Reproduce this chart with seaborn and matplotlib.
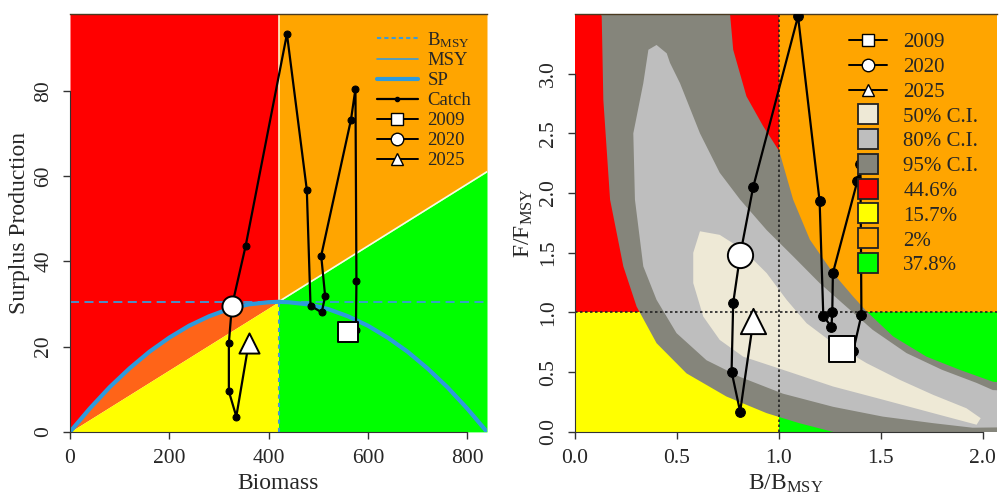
import numpy as np
import pandas as pd
import seaborn as sns
import matplotlib.pyplot as plt
from matplotlib.lines import Line2D

sns.set_style("ticks")
plt.rcParams['font.family'] = ['Liberation Serif', 'DejaVu Serif']
plt.rcParams['mathtext.fontset'] = 'custom'
plt.rcParams['mathtext.rm'] = 'Liberation Serif'
plt.rcParams['mathtext.it'] = 'Liberation Serif:italic'
plt.rcParams['font.size'] = 13

# ---- data ----
years = [2009, 2010, 2011, 2012, 2013, 2014, 2015, 2016, 2017, 2018, 2019,
         2019.5, 2020, 2021, 2022, 2023, 2025]
biomass = [561, 576, 577, 575, 566, 506, 514, 507, 484.5, 477, 437,
           354, 326, 320, 320, 335, 360]
catch = [23.5, 24.0, 35.3, 80.4, 73.2, 41.3, 31.8, 28.0, 29.6, 56.8, 93.3,
         43.7, 29.4, 20.8, 9.5, 3.6, 20.8]
b_bmsy = [1.31, 1.365, 1.405, 1.40, 1.385, 1.265, 1.262, 1.258, 1.218, 1.20, 1.094,
          0.874, 0.81, 0.776, 0.768, 0.81, 0.874]
f_fmsy = [0.69, 0.68, 0.98, 2.24, 2.10, 1.33, 1.00, 0.88, 0.97, 1.93, 3.48,
          2.05, 1.48, 1.08, 0.505, 0.17, 0.925]

highlight_years = ["2009", "2020", "2025"]
highlight_idx = [0, 12, 16]
highlight_marker = ["s", "o", "^"]

# surplus production curve
sp_biomass = [0, 40, 80, 120, 160, 200, 240, 280, 320, 360, 400, 420,
              440, 480, 520, 560, 600, 640, 680, 720, 760, 800, 840]
sp_values = [0, 5.5, 10.5, 14.9, 18.8, 22.1, 24.9, 27.1, 28.8, 29.9, 30.4, 30.5,
             30.4, 29.9, 28.8, 27.1, 24.9, 22.1, 18.8, 14.9, 10.5, 5.5, 0]
bmsy = 420
msy = 30.5
k_max = 840

# kobe confidence regions
ci95_x = [0.10, 0.131, 0.139, 0.172, 0.237, 0.302, 0.40, 0.547, 0.743, 0.94, 1.10, 1.266,
          1.266, 2.2, 2.2, 2.05, 1.887, 1.724, 1.56, 1.43, 1.364, 1.266, 1.152, 1.07,
          1.002, 0.923, 0.841, 0.776, 0.76, 0.755]
ci95_y = [3.6, 3.48, 2.78, 1.945, 1.386, 1.05, 0.743, 0.49, 0.296, 0.157, 0.073, 0.0,
          -0.1, -0.1, 0.40, 0.42, 0.52, 0.63, 0.80, 1.01, 1.134, 1.33, 1.61, 1.945,
          2.35, 2.56, 2.81, 3.2, 3.51, 3.6]
ci80_x = [0.36, 0.335, 0.286, 0.294, 0.335, 0.40, 0.498, 0.645, 0.81, 1.02, 1.266, 1.51,
          1.757, 1.95, 2.2, 2.2, 2.05, 1.97, 1.80, 1.626, 1.46, 1.33, 1.20, 1.07, 0.94,
          0.81, 0.71, 0.613, 0.515, 0.466, 0.45, 0.40]
ci80_y = [3.2, 2.92, 2.50, 1.945, 1.386, 1.106, 0.827, 0.60, 0.46, 0.32, 0.21, 0.128,
          0.073, 0.035, 0.04, 0.34, 0.35, 0.41, 0.52, 0.66, 0.855, 1.05, 1.246, 1.47, 1.69,
          1.945, 2.17, 2.50, 2.92, 3.09, 3.17, 3.24]
ci50_x = [0.613, 0.58, 0.58, 0.629, 0.71, 0.825, 1.02, 1.266, 1.51, 1.757, 1.97, 1.99,
          1.92, 1.757, 1.593, 1.43, 1.266, 1.136, 1.038, 0.94, 0.825, 0.71]
ci50_y = [1.68, 1.50, 1.246, 0.966, 0.77, 0.63, 0.52, 0.38, 0.27, 0.157, 0.06, 0.115,
          0.198, 0.31, 0.436, 0.576, 0.743, 0.91, 1.106, 1.33, 1.525, 1.65]

ci_labels = ["50% C.I.", "80% C.I.", "95% C.I."]
ci_colors = ["#EEE9D6", "#BEBEBE", "#85857B"]
quad_labels = ["44.6%", "15.7%", "2%", "37.8%"]
quad_colors = ["#FF0000", "#FFFF00", "#FFA500", "#00FF00"]

traj = pd.DataFrame({"year": years, "biomass": biomass, "catch": catch,
                     "b_bmsy": b_bmsy, "f_fmsy": f_fmsy})

fig = plt.figure(figsize=(10, 4.97), dpi=100)
ax1 = fig.add_axes([0.070, 0.131, 0.417, 0.841])
ax2 = fig.add_axes([0.575, 0.131, 0.422, 0.841])

# ---------------- left: surplus production ----------------
x_max, y_max = k_max, 98
sp_b = np.array(sp_biomass, dtype=float)
sp_v = np.array(sp_values, dtype=float)
line_y = msy / bmsy * sp_b
left = sp_b <= bmsy
right = sp_b >= bmsy
ax1.fill_between(sp_b[left], sp_v[left], y_max, color="#FF0000", lw=0, zorder=0)
ax1.fill_between(sp_b[left], line_y[left], sp_v[left], color="#FF6418", lw=0, zorder=0)
ax1.fill_between(sp_b[left], 0, line_y[left], color="#FFFF00", lw=0, zorder=0)
ax1.fill_between(sp_b[right], line_y[right], y_max, color="#FFA500", lw=0, zorder=0)
ax1.fill_between(sp_b[right], 0, line_y[right], color="#00FF00", lw=0, zorder=0)
ax1.plot([bmsy, bmsy], [msy, y_max], color="#FFF2D0", lw=1.2, zorder=0.5)
ax1.plot(sp_b[right], line_y[right], color="#F4FFE8", lw=1.2, zorder=0.5)

ax1.axhline(msy, color="#3C9BD8", lw=1.3, ls=(0, (5, 3)), zorder=1)
ax1.plot([bmsy, bmsy], [0, msy], color="#3C9BD8", lw=1.5, ls=(0, (2, 2)), zorder=1)
sns.lineplot(x=sp_b, y=sp_v, ax=ax1, color="#2E9BDC", lw=3, sort=False, zorder=2)

sns.lineplot(data=traj, x="biomass", y="catch", ax=ax1, sort=False, estimator=None,
             color="black", lw=1.6, marker="o", markersize=5, markeredgecolor="black",
             zorder=3)
for idx, mk in zip(highlight_idx, highlight_marker):
    sns.scatterplot(x=[biomass[idx]], y=[catch[idx]], ax=ax1, marker=mk, s=210,
                    color="white", edgecolor="black", linewidth=1.4, zorder=4)

ax1.set_xlim(0, x_max)
ax1.set_ylim(0, y_max)
ax1.set_xticks([0, 200, 400, 600, 800])
ax1.set_yticks([0, 20, 40, 60, 80])
ax1.set_xlabel("Biomass", fontsize=17, labelpad=4)
ax1.set_ylabel("Surplus Production", fontsize=17, labelpad=3)

handles1 = [
    Line2D([], [], color="#3C9BD8", lw=1.5, ls=(0, (2, 1.5))),
    Line2D([], [], color="#3C9BD8", lw=1.2),
    Line2D([], [], color="#2E9BDC", lw=3),
    Line2D([], [], color="black", lw=1.6, marker="o", markersize=3),
] + [Line2D([], [], color="black", lw=1.4, marker=m, markersize=9,
            markerfacecolor="white", markeredgecolor="black") for m in highlight_marker]
labels1 = ["B$_{\\mathrm{MSY}}$", "MSY", "SP", "Catch"] + highlight_years
ax1.legend(handles1, labels1, loc="upper right", frameon=False, fontsize=13.5,
           handlelength=2.2, labelspacing=0.15, borderaxespad=0.1, borderpad=0.75,
           handletextpad=0.5)

# ---------------- right: kobe plot ----------------
bx_max, fy_max = 2.07, 3.5
ax2.fill_between([0, 1], 1, fy_max, color=quad_colors[0], lw=0, zorder=0)
ax2.fill_between([0, 1], 0, 1, color=quad_colors[1], lw=0, zorder=0)
ax2.fill_between([1, bx_max], 1, fy_max, color=quad_colors[2], lw=0, zorder=0)
ax2.fill_between([1, bx_max], 0, 1, color=quad_colors[3], lw=0, zorder=0)
for cx, cy, col in zip([ci95_x, ci80_x, ci50_x], [ci95_y, ci80_y, ci50_y],
                       ci_colors[::-1]):
    ax2.fill(cx, cy, color=col, lw=0, zorder=1)
ax2.axhline(1, color="#222222", lw=1.2, ls=(0, (1.5, 1.5)), zorder=2)
ax2.axvline(1, color="#222222", lw=1.2, ls=(0, (1.5, 1.5)), zorder=2)

sns.lineplot(data=traj, x="b_bmsy", y="f_fmsy", ax=ax2, sort=False, estimator=None,
             color="black", lw=1.6, marker="o", markersize=7, markeredgecolor="black",
             zorder=3)
for idx, mk in zip(highlight_idx, highlight_marker):
    sns.scatterplot(x=[b_bmsy[idx]], y=[f_fmsy[idx]], ax=ax2, marker=mk, s=330,
                    color="white", edgecolor="black", linewidth=1.4, zorder=4)

ax2.set_xlim(0, bx_max)
ax2.set_ylim(0, fy_max)
ax2.set_xticks([0.0, 0.5, 1.0, 1.5, 2.0])
ax2.set_yticks([0.0, 0.5, 1.0, 1.5, 2.0, 2.5, 3.0])
ax2.set_xticklabels(["0.0", "0.5", "1.0", "1.5", "2.0"])
ax2.set_yticklabels(["0.0", "0.5", "1.0", "1.5", "2.0", "2.5", "3.0"])
ax2.set_xlabel("B/B$_{\\mathrm{MSY}}$", fontsize=17, labelpad=4)
ax2.set_ylabel("F/F$_{\\mathrm{MSY}}$", fontsize=17, labelpad=3)

handles2 = [Line2D([], [], color="black", lw=1.4, marker=m, markersize=9,
                   markerfacecolor="white", markeredgecolor="black")
            for m in highlight_marker]
handles2 += [Line2D([], [], ls="none", marker="s", markersize=14,
                    markerfacecolor=c, markeredgecolor="#222222", markeredgewidth=1.3)
             for c in ci_colors + quad_colors]
labels2 = highlight_years + ci_labels + quad_labels
ax2.legend(handles2, labels2, loc="upper right", frameon=False, fontsize=15,
           handlelength=1.8, labelspacing=0.25, borderaxespad=0.0, borderpad=0.9,
           handletextpad=0.8)

for ax in (ax1, ax2):
    ax.tick_params(axis="both", direction="out", length=5, width=1, labelsize=15.5,
                   color="#333333", pad=7)
    ax.tick_params(axis="y", labelrotation=90)
    for lbl in ax.get_yticklabels():
        lbl.set_verticalalignment("center")
    ax.spines["right"].set_visible(False)
    ax.spines["top"].set_color("#4A3A20")
    ax.spines["top"].set_linewidth(1.0)
    ax.spines["left"].set_color("#333333")
    ax.spines["bottom"].set_color("#333333")
ax1.spines["bottom"].set_bounds(0, 800)
ax1.spines["left"].set_bounds(0, 80)
ax2.spines["bottom"].set_bounds(0, 2.0)
ax2.spines["left"].set_bounds(0, 3.0)

fig.savefig("out.png", dpi=100)
